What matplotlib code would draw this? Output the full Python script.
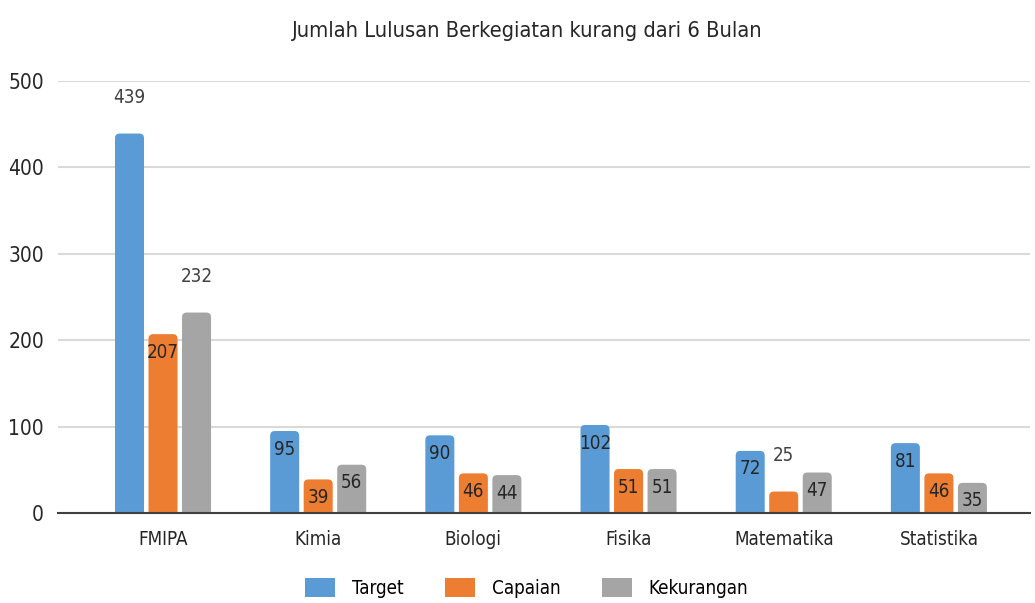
import numpy as np
import matplotlib
matplotlib.use('Agg')
import matplotlib.pyplot as plt
from matplotlib.patches import FancyBboxPatch

plt.rcParams['font.family'] = ['DejaVu Sans']
plt.rcParams['font.stretch'] = 'condensed'

# data
categories = ['FMIPA', 'Kimia', 'Biologi', 'Fisika', 'Matematika', 'Statistika']
target = [439, 95, 90, 102, 72, 81]
capaian = [207, 39, 46, 51, 25, 46]
kekurangan = [232, 56, 44, 51, 47, 35]
series_names = ['Target', 'Capaian', 'Kekurangan']

colors = ['#5B9BD5', '#ED7D31', '#A5A5A5']
# labels that Excel put above the bar instead of inside
outside = {(0, 0), (2, 0), (1, 4)}

fig = plt.figure(figsize=(10.35, 6.03), dpi=100)
ax = fig.add_axes([0.056, 0.149, 0.939, 0.717])

x = np.arange(len(categories))
w = 0.187
step = 0.216
all_vals = [target, capaian, kekurangan]

for s, vals in enumerate(all_vals):
    bars = ax.bar(x + (s - 1) * step, vals, w, color=colors[s], label=series_names[s])
    for i, b in enumerate(bars):
        b.set_visible(False)
        # rounded top corners, bottom hidden under the axis
        p = FancyBboxPatch((b.get_x(), -20), b.get_width(), b.get_height() + 20,
                           boxstyle='round,pad=0,rounding_size=0.03',
                           mutation_aspect=180, fc=colors[s], ec='none', zorder=2)
        ax.add_patch(p)
        cx = b.get_x() + b.get_width() / 2
        if (s, i) in outside:
            ax.annotate(str(vals[i]), (cx, vals[i]), xytext=(0, 26), textcoords='offset points',
                        ha='center', va='center', fontsize=13.5, color='#404040',
                        annotation_clip=False)
        else:
            ax.annotate(str(vals[i]), (cx, vals[i]), xytext=(0, -13), textcoords='offset points',
                        ha='center', va='center', fontsize=13.5, color='#262626')

ax.set_xlim(-0.677, 5.586)
ax.set_ylim(0, 500)
ax.set_yticks([0, 100, 200, 300, 400, 500])
ax.set_xticks(x)
ax.set_xticklabels(categories)
ax.grid(axis='y', color='#D9D9D9', lw=1.5, zorder=0)
ax.set_axisbelow(True)
for sp in ['top', 'right', 'left']:
    ax.spines[sp].set_visible(False)
ax.spines['bottom'].set_color('#404040')
ax.spines['bottom'].set_linewidth(1.5)
ax.spines['bottom'].set_zorder(3)
ax.tick_params(axis='both', length=0, labelsize=15, colors='#262626')
ax.tick_params(axis='x', pad=12, labelsize=13.5)
ax.tick_params(axis='y', pad=10)

fig.text(0.509, 0.948, 'Jumlah Lulusan Berkegiatan kurang dari 6 Bulan',
         ha='center', va='center', fontsize=15.7, color='#262626')

handles = [plt.Rectangle((0, 0), 1, 1, fc=c) for c in colors]
fig.legend(handles, series_names, loc='center', bbox_to_anchor=(0.509, 0.025), ncol=3,
           frameon=False, fontsize=13.5, handlelength=1.6, handleheight=1.2,
           columnspacing=2.2, handletextpad=0.9)

plt.savefig('out.png', dpi=100)
